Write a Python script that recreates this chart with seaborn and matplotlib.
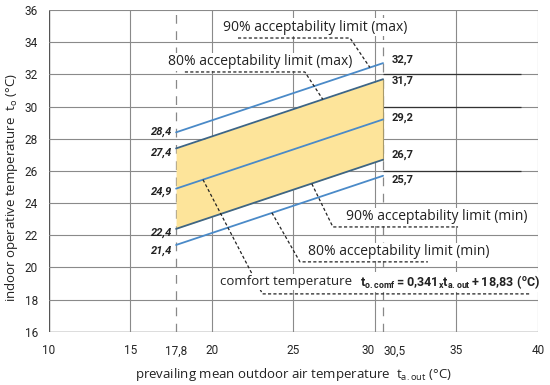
import pandas as pd
import matplotlib.pyplot as plt
import seaborn as sns

# ---------------------------
# data
# ---------------------------
t_out = [17.8, 30.5]
lim90_max = [28.4, 32.7]
lim80_max = [27.4, 31.7]
comfort = [24.9, 29.2]
lim80_min = [22.4, 26.7]
lim90_min = [21.4, 25.7]

series_names = ['90max', '80max', 'comfort', '80min', '90min']
series_vals = [lim90_max, lim80_max, comfort, lim80_min, lim90_min]
left_labels = ['28,4', '27,4', '24,9', '22,4', '21,4']
right_labels = ['32,7', '31,7', '29,2', '26,7', '25,7']

x_ticks = [10, 15, 17.8, 20, 25, 30, 30.5, 35, 40]
x_ticklabels = ['10', '15', '17,8', '20', '25', '30', '30,5', '35', '40']
y_ticks = list(range(16, 37, 2))

rows = []
for name, vals in zip(series_names, series_vals):
    for x, v in zip(t_out, vals):
        rows.append({'t_out': x, 'value': v, 'series': name})
df = pd.DataFrame(rows)

# ---------------------------
# style
# ---------------------------
sns.set_theme(style="whitegrid")
plt.rcParams['font.family'] = ['Open Sans', 'DejaVu Sans']
plt.rcParams['mathtext.fontset'] = 'custom'
plt.rcParams['mathtext.rm'] = 'Open Sans'
plt.rcParams['mathtext.bf'] = 'Roboto:bold'
narrow = ['Liberation Sans Narrow', 'Roboto', 'DejaVu Sans']

fig = plt.figure(figsize=(5.5, 3.85), dpi=100)
ax = fig.add_axes([0.089, 0.138, 0.889, 0.836])

grid_c = '#8a8a8a'
ax.grid(False)
for s in ax.spines.values():
    s.set_visible(False)
ax.axvline(10, color='#555555', lw=1.0, zorder=1)
ax.axhline(16, color='#555555', lw=1.0, zorder=1)
for xv in [15, 20, 25, 30, 35, 40]:
    ax.axvline(xv, color=grid_c, lw=0.8, zorder=1)
for yv in range(18, 37, 2):
    ax.axhline(yv, color=grid_c, lw=0.8, zorder=1)

# dashed verticals at the limits of applicability
for xv in t_out:
    ax.axvline(xv, color='#888888', lw=0.9, ls=(0, (7, 6)), zorder=1.5)

# dark segments on the right
ax.hlines([32, 30, 26], 30.5, 38.95, color='#333333', lw=0.9, zorder=1.6)

# band
ax.fill_between(t_out, lim80_min, lim80_max, color='#fde49a', lw=0, zorder=2)
ax.plot([30.5, 30.5], [lim80_min[1], lim80_max[1]], color='#a89a6a', lw=0.8, zorder=2.1)

palette = {'90max': '#4a8ac8', '80max': '#3d6585', 'comfort': '#4a8ac8',
           '80min': '#3d6585', '90min': '#4a8ac8'}
sns.lineplot(data=df, x='t_out', y='value', hue='series', palette=palette,
             legend=False, lw=1.3, ax=ax, zorder=3)

# value labels
for lab, vals, dy in zip(left_labels, series_vals, [0, -0.25, -0.2, -0.25, -0.35]):
    ax.text(17.6, vals[0] + dy, lab, ha='right', va='center', fontsize=8,
            family=narrow, fontweight='bold', style='italic', color='#222222')
for lab, vals, dy in zip(right_labels, series_vals, [0.2, -0.1, 0.1, 0.3, -0.25]):
    ax.text(31.0, vals[1] + dy, lab, ha='left', va='center', fontsize=8,
            family=narrow, fontweight='bold', color='#222222')

# leaders
lead = dict(color='#222222', lw=0.9, ls=(0, (2.5, 1.8)), zorder=4)
ax.plot([21.6, 28.47, 29.69], [34.26, 34.26, 32.43], **lead)
ax.plot([18.34, 25.7, 26.8], [32.15, 32.15, 30.45], **lead)
ax.plot([26.13, 27.42, 35.1], [25.2, 22.52, 22.52], **lead)
ax.plot([23.68, 25.4, 33.25], [23.4, 20.35, 20.35], **lead)
ax.plot([19.45, 23.1, 39.5], [25.46, 18.36, 18.36], **lead)

box = dict(facecolor='white', edgecolor='none', pad=1.0)
txt = dict(va='center', color='#222222', bbox=box, zorder=5)
ax.text(20.65, 34.94, '90% acceptability limit (max)', ha='left', fontsize=10, **txt)
ax.text(17.3, 32.77, '80% acceptability limit (max)', ha='left', fontsize=10, **txt)
ax.text(28.2, 23.14, '90% acceptability limit (min)', ha='left', fontsize=10, **txt)
ax.text(25.9, 20.97, '80% acceptability limit (min)', ha='left', fontsize=10, **txt)
ax.text(20.5, 19.1, 'comfort temperature', ha='left', fontsize=9.5, **txt)
ax.text(29.1, 19.1,
        r'$\mathbf{t_{o.comf} = 0{,}341}_{\mathbf{x}}\mathbf{t_{a.out} + 18{,}83\ (^{o}C)}$',
        ha='left', fontsize=9, **txt)

# axes
ax.set_xlim(10, 40)
ax.set_ylim(16, 36)
ax.set_xticks(x_ticks)
ax.set_xticklabels(x_ticklabels, family=narrow, fontsize=8.5)
ax.set_yticks(y_ticks)
ax.set_yticklabels([str(v) for v in y_ticks], family=narrow, fontsize=8.5)
ax.tick_params(axis='x', length=0, pad=9)
ax.tick_params(axis='y', length=0, pad=8)
xt = ax.get_xticklabels()
xt[5].set_ha('right')
xt[6].set_ha('left')

ax.set_xlabel(r'prevailing mean outdoor air temperature  $\mathrm{t_{a.out}}$ (°C)',
              fontsize=9.5, labelpad=6, color='#222222')
ax.set_ylabel(r'indoor operative temperature  $\mathrm{t_o}$ (°C)',
              fontsize=9.5, color='#222222')
ax.yaxis.set_label_coords(-0.06, 0.45)

fig.savefig('out.png', dpi=100)
